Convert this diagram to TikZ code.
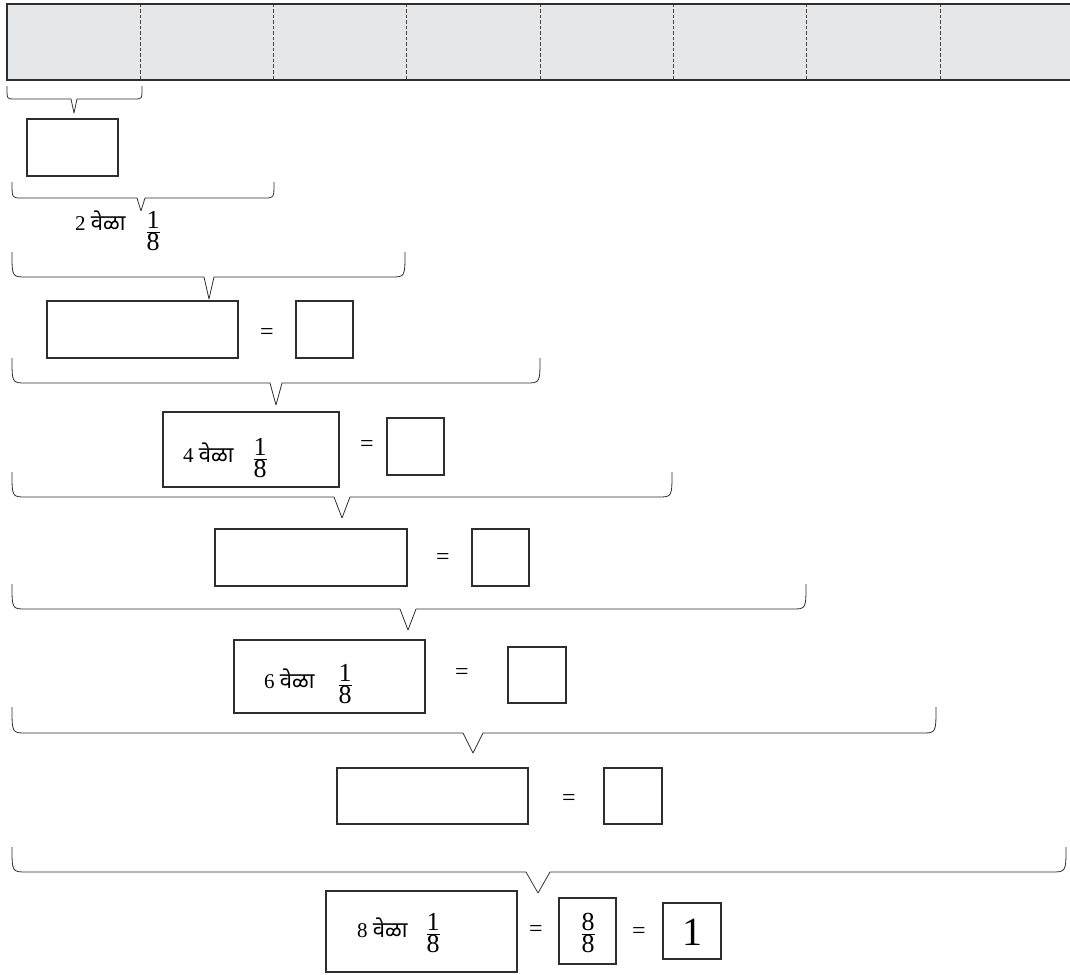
\documentclass[tikz,border=0pt]{standalone}
\usepackage{fontspec}
\setmainfont{Liberation Serif}
\newfontfamily\devfont[Script=Devanagari]{Noto Sans}
\definecolor{barfill}{HTML}{E6E7E8}
\definecolor{ink}{HTML}{2E2E2E}
\definecolor{dashink}{HTML}{444444}
\tikzset{
  box/.style={draw=ink, line width=1.1pt, inner sep=0pt, outer sep=0pt},
  bracestroke/.style={draw=ink, line width=0.8pt, line join=round},
  lbl/.style={inner sep=0pt, font=\fontsize{21}{23}\selectfont},
  frc/.style={inner sep=0pt, font=\fontsize{26}{28}\selectfont},
  eqs/.style={inner sep=0pt, anchor=base, font=\fontsize{24}{26}\selectfont},
}
% box by corners: name, x1, y1, x2, y2
\newcommand\bx[5]{\node[box, minimum width={#4pt-#2pt}, minimum height={#5pt-#3pt}] (#1) at ({(#2+#4)/2},{(#3+#5)/2}) {};}
% brace: xl, xr, ytop, yh, xtip, ytip, halfwidth, radius
\newcommand\brc[8]{\draw[bracestroke] (#1,#3) .. controls (#1,#4) .. ({#1+#8},#4) -- ({#5-#7},#4) -- (#5,#6) -- ({#5+#7},#4) -- ({#2-#8},#4) .. controls (#2,#4) .. (#2,#3);}
% fraction: name, x, ybar, numerator, denominator
\newcommand\fra[5]{\node[frc, anchor=base] (#1) at (#2,{#3+6.5}) {$\frac{\mbox{#4}}{\mbox{#5}}$};}
% label: name, x, baseline, digit
\newcommand\lab[4]{\node[lbl, anchor=base west] (#1) at (#2,#3) {#4 {\devfont\fontsize{22}{24}\selectfont वेळा}};}
% equals sign centred at x, y
\newcommand\eq[3]{\node[eqs] (#1) at (#2,{#3+6.5}) {=};}
\begin{document}
\begin{tikzpicture}[x=1pt,y=-1pt]
\useasboundingbox (0,0) rectangle (1070,974);
\clip (0,0) rectangle (1070,974);
% top bar
\fill[barfill] (7,4) rectangle (1080,80);
\foreach \k in {1,...,7}{
  \draw[dashink, line width=1.1pt, dash pattern=on 3.5pt off 2pt] ({7+133.3*\k},4) -- ({7+133.3*\k},80);
}
\draw[ink, line width=1.4pt] (1080,4) -- (7,4) -- (7,80) -- (1080,80);
% braces
\brc{7}{142}{86}{99}{74}{113}{3}{6}
\brc{12}{274}{182}{198}{141}{211}{4}{9}
\brc{12}{405}{252}{277}{209}{299}{5}{14}
\brc{12}{540}{358}{383}{276}{405}{6}{14}
\brc{12}{672}{472}{497}{342}{518}{8}{14}
\brc{12}{806}{584}{609}{408}{630}{8}{14}
\brc{12}{936}{707}{733}{473}{753}{10}{14}
\brc{12}{1066}{847}{872}{538}{893}{12}{15}
% row 1
\bx{b1}{27}{119}{118}{176}
% row 2 text
\lab{t2}{75}{230}{2}
\fra{f2}{153}{232}{1}{8}
% row 3
\bx{b3}{47}{301}{238}{358}
\eq{e3}{267}{333}
\bx{s3}{296}{301}{353}{358}
% row 4
\bx{b4}{163}{412}{339}{487}
\lab{t4}{183}{462}{4}
\fra{f4}{260}{459}{1}{8}
\eq{e4}{367}{445}
\bx{s4}{387}{418}{444}{475}
% row 5
\bx{b5}{215}{529}{407}{586}
\eq{e5}{443}{558}
\bx{s5}{472}{529}{529}{586}
% row 6
\bx{b6}{234}{640}{425}{713}
\lab{t6}{264}{688}{6}
\fra{f6}{345}{685}{1}{8}
\eq{e6}{462}{673}
\bx{s6}{508}{647}{566}{703}
% row 7
\bx{b7}{337}{768}{528}{824}
\eq{e7}{569}{799}
\bx{s7}{604}{768}{662}{824}
% row 8
\bx{b8}{326}{891}{517}{972}
\lab{t8}{357}{937}{8}
\fra{f8}{433}{934}{1}{8}
\eq{e8}{536}{930}
\bx{s8}{559}{898}{616}{964}
\fra{g8}{588}{934}{8}{8}
\eq{e9}{639}{932}
\bx{u8}{663}{903}{721}{959}
\node[inner sep=0pt, font=\fontsize{40}{42}\selectfont] (one) at (692,932) {1};
\end{tikzpicture}
\end{document}
